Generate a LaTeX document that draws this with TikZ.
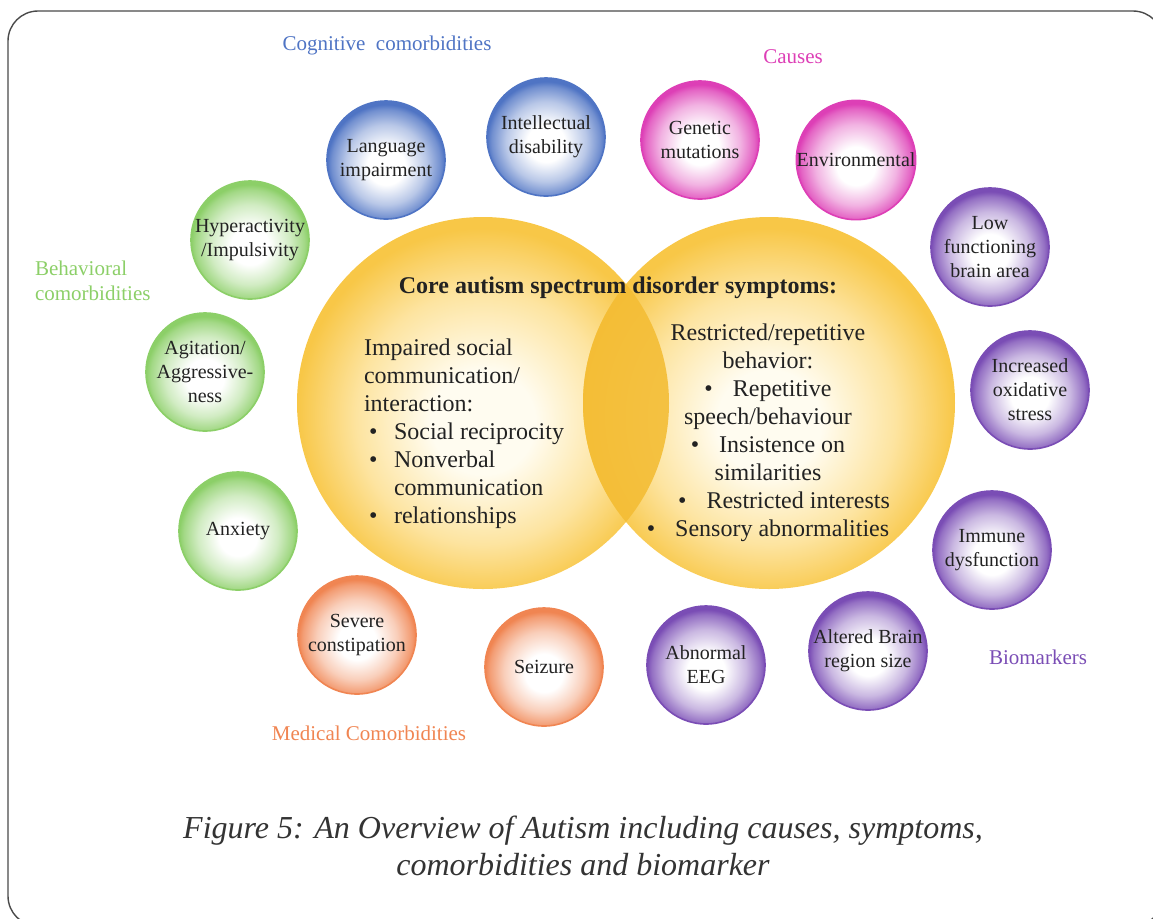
\documentclass[tikz,border=0pt]{standalone}
\usepackage{fontspec}
\setmainfont{Liberation Serif}
\definecolor{framegray}{HTML}{4A4A4A}
\definecolor{cblue}{HTML}{4F74C4}
\definecolor{cpink}{HTML}{DD3FB6}
\definecolor{cgreen}{HTML}{8CCF68}
\definecolor{corange}{HTML}{F08552}
\definecolor{cpurple}{HTML}{7A4DB5}
\definecolor{yolkin}{HTML}{FFFCF0}
\definecolor{yolkmid}{HTML}{FDE4A0}
\definecolor{yolkout}{HTML}{F8C747}
\definecolor{lensgold}{HTML}{F4BD35}
\definecolor{ink}{HTML}{222222}
\definecolor{capgray}{HTML}{333333}
\colorlet{bubedge}{cblue}
\pgfdeclareradialshading[bubedge]{bubble}{\pgfpoint{0bp}{-3bp}}{color(0bp)=(white); color(8bp)=(white);
  color(17bp)=(bubedge!40!white); color(23bp)=(bubedge!80!white); color(25bp)=(bubedge); color(50bp)=(bubedge)}
\pgfdeclareradialshading{yolk}{\pgfpoint{0bp}{-3bp}}{color(0bp)=(yolkin); color(7bp)=(yolkin);
  color(17bp)=(yolkmid); color(25bp)=(yolkout); color(50bp)=(yolkout)}
\newcommand\bul{\hspace*{2.5pt}\makebox[12.5pt][l]{\textbullet}}
\tikzset{
  bubcol/.code={\colorlet{bubedge}{#1}},
  bub/.style={circle,inner sep=0pt,minimum size=59pt,align=center,bubcol=#1,shading=bubble,
              draw=#1,line width=.8pt,text=ink,font=\fontsize{10}{12}\selectfont},
  yolkdisc/.style={circle,minimum size=186pt,inner sep=0pt,shading=yolk},
  grp/.style={text=#1,font=\fontsize{10.5}{12.5}\selectfont,align=left},
  body/.style={text=ink,font=\fontsize{12}{14}\selectfont},
  ttl/.style={text=ink,font=\fontsize{12}{14}\bfseries\selectfont},
  frame/.style={draw=framegray,line width=.7pt,rounded corners=15pt}
}
\begin{document}
\begin{tikzpicture}[x=0.5pt,y=-0.5pt]
\useasboundingbox (0,0) rectangle (1153,918);
\begin{scope}
\clip (0,0) rectangle (1153,918);
\draw[frame] (8,11) rectangle (1163,926);
\end{scope}

% core symptoms
\node[yolkdisc] (social) at (483,403) {};
\node[yolkdisc] (restrict) at (769,403) {};
\begin{scope}
\clip (social.center) circle (93pt);
\fill[lensgold,opacity=.9] (restrict.center) circle (93pt);
\end{scope}
\node[ttl] (core) at (618,288) {Core autism spectrum disorder symptoms:};
\node[body,align=left,anchor=west] (socialtxt) at (357,434) {Impaired social\\communication/\\interaction:\\
  \bul Social reciprocity\\\bul Nonverbal\\\hspace*{15pt}communication\\\bul relationships};
\node[body,align=center] (restricttxt) at (768,433) {Restricted/repetitive\\behavior:\\
  \textbullet\hspace{10pt}Repetitive\\speech/behaviour\\\textbullet\hspace{10pt}Insistence on\\similarities\\
  \hspace*{16pt}\textbullet\hspace{10pt}Restricted interests\\\textbullet\hspace{10pt}Sensory abnormalities};

% surrounding bubbles
\node[bub=cblue] (lang) at (386,160) {Language\\impairment};
\node[bub=cblue] (intel) at (546,137) {Intellectual\\disability};
\node[bub=cpink] (genetic) at (700,140) {Genetic\\mutations};
\node[bub=cpink] (environ) at (856,160) {Environmental};
\node[bub=cpurple] (lowfn) at (990,247) {Low\\functioning\\brain area};
\node[bub=cpurple] (oxid) at (1030,390) {Increased\\oxidative\\stress};
\node[bub=cpurple] (immune) at (992,550) {Immune\\dysfunction};
\node[bub=cpurple] (brain) at (868,651) {Altered Brain\\region size};
\node[bub=cpurple] (eeg) at (706,665) {Abnormal\\EEG};
\node[bub=corange] (seizure) at (544,667) {Seizure};
\node[bub=corange] (constip) at (357,635) {Severe\\constipation};
\node[bub=cgreen] (anxiety) at (238,531) {Anxiety};
\node[bub=cgreen] (agitation) at (205,372) {Agitation/\\Aggressive-\\ness};
\node[bub=cgreen] (hyper) at (250,240) {Hyperactivity\\/Impulsivity};

% group labels
\node[grp=cblue] (cognitive) at (387,45) {Cognitive\hspace{.5em}comorbidities};
\node[grp=cpink] (causes) at (793,57) {Causes};
\node[grp=cgreen,anchor=west] (behav) at (28,281) {Behavioral\\comorbidities};
\node[grp=corange] (medical) at (369,733) {Medical Comorbidities};
\node[grp=cpurple] (biomark) at (1038,657) {Biomarkers};

\node[text=capgray,font=\fontsize{16}{18.5}\itshape\selectfont,align=center] (caption) at (583,846)
  {Figure 5: An Overview of Autism including causes, symptoms,\\comorbidities and biomarker};
\end{tikzpicture}
\end{document}
